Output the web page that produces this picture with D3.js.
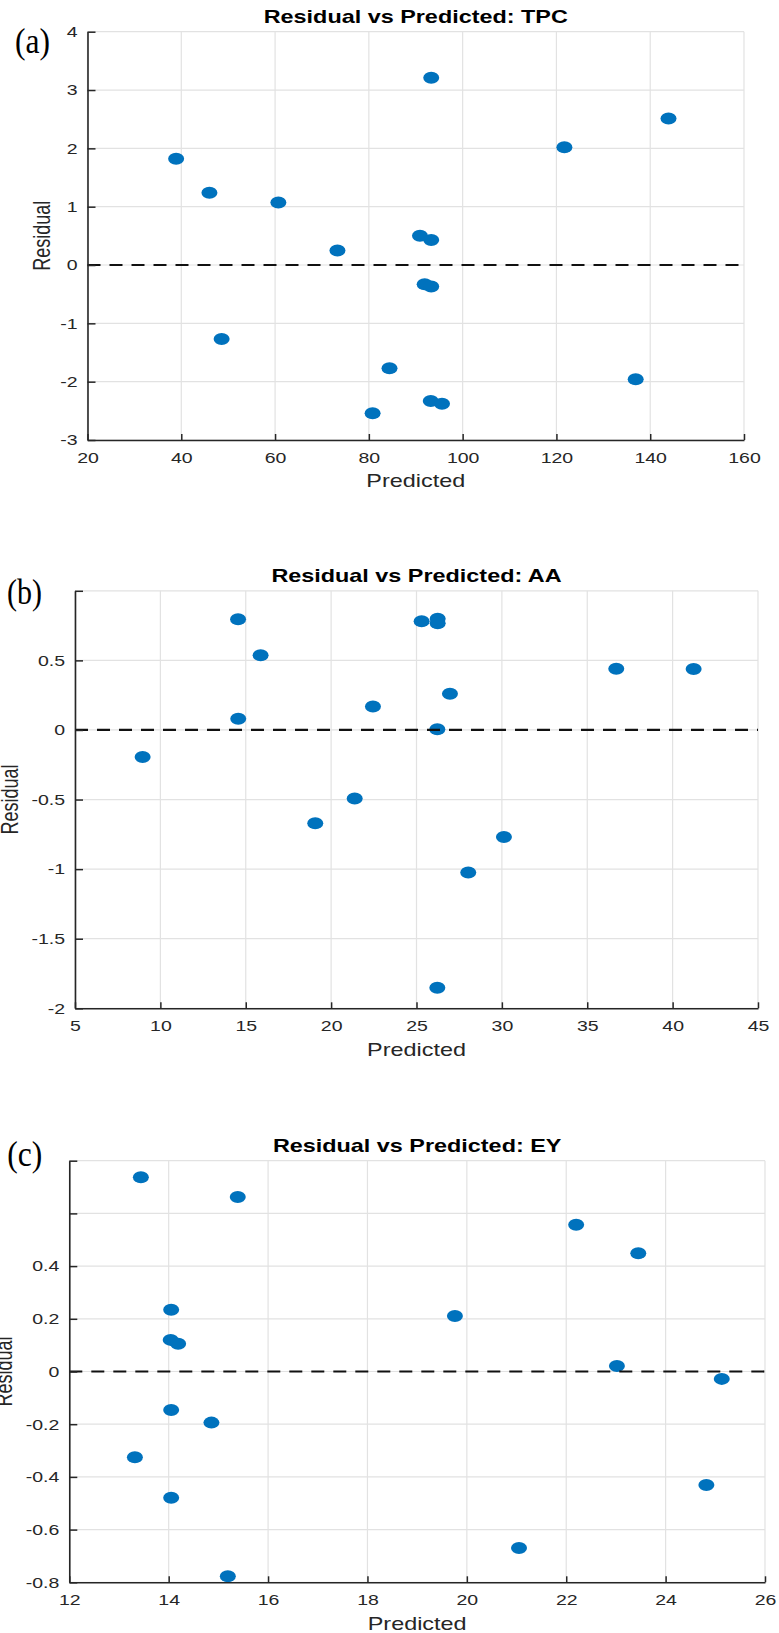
<!DOCTYPE html>
<html><head><meta charset="utf-8">
<script src="https://cdn.jsdelivr.net/npm/d3@7"></script>
<style>body{margin:0;background:#fff} svg{display:block}</style>
</head><body>
<svg id="chart" width="779" height="1633"></svg>
<script>
// ---------- data ----------
const tpcPredicted = [38.9, 46.0, 48.6, 60.7, 73.3, 80.8, 84.4, 90.9, 91.9, 93.3, 93.3, 93.3, 93.2, 95.6, 121.7, 136.9, 143.9];
const tpcResidual  = [1.82, 1.24, -1.27, 1.07, 0.25, -2.54, -1.77, 0.50, -0.33, 3.21, 0.43, -0.37, -2.33, -2.38, 2.02, -1.96, 2.51];
const tpcXTicks = [20, 40, 60, 80, 100, 120, 140, 160];
const tpcYTicks = [-3, -2, -1, 0, 1, 2, 3, 4];
const tpcYLabels = ["-3", "-2", "-1", "0", "1", "2", "3", "4"];

const aaPredicted = [8.96, 14.55, 14.56, 15.87, 19.07, 21.38, 22.45, 25.3, 26.24, 26.24, 26.22, 26.96, 26.22, 28.03, 30.12, 36.7, 41.23];
const aaResidual  = [-0.194, 0.795, 0.081, 0.537, -0.670, -0.493, 0.168, 0.781, 0.800, 0.766, 0.005, 0.261, -1.853, -1.025, -0.769, 0.440, 0.438];
const aaXTicks = [5, 10, 15, 20, 25, 30, 35, 40, 45];
const aaYTicks = [-2, -1.5, -1, -0.5, 0, 0.5, 1];
const aaYLabels = ["-2", "-1.5", "-1", "-0.5", "0", "0.5", ""];

const eyPredicted = [13.44, 15.39, 14.05, 14.04, 14.19, 14.05, 14.86, 13.32, 14.05, 15.19, 19.76, 22.2, 23.45, 23.02, 25.13, 24.82, 21.05];
const eyResidual  = [0.737, 0.662, 0.234, 0.120, 0.105, -0.146, -0.194, -0.325, -0.479, -0.777, 0.211, 0.557, 0.449, 0.021, -0.028, -0.431, -0.670];
const eyXTicks = [12, 14, 16, 18, 20, 22, 24, 26];
const eyYTicks = [-0.8, -0.6, -0.4, -0.2, 0, 0.2, 0.4, 0.6, 0.8];
const eyYLabels = ["-0.8", "-0.6", "-0.4", "-0.2", "0", "0.2", "0.4", "", ""];

const titles = ["Residual vs Predicted: TPC", "Residual vs Predicted: AA", "Residual vs Predicted: EY"];
const panelLetters = ["(a)", "(b)", "(c)"];
const xLabel = "Predicted";
const yLabel = "Residual";

// ---------- layout ----------
const SX = 1.3; // horizontal stretch of the original figure
const panels = [
  { xs: tpcPredicted, ys: tpcResidual, xDomain: [20, 160], yDomain: [-3, 4], xTicks: tpcXTicks, yTicks: tpcYTicks, yLabels: tpcYLabels,
    left: 87.5, right: 744, top: 31.7, bottom: 440, letterX: 15, letterY: 53, ylabX: 50, title: titles[0], letter: panelLetters[0] },
  { xs: aaPredicted, ys: aaResidual, xDomain: [5, 45], yDomain: [-2, 1], xTicks: aaXTicks, yTicks: aaYTicks, yLabels: aaYLabels,
    left: 75, right: 758, top: 590.8, bottom: 1008.3, letterX: 7, letterY: 604, ylabX: 17.8, title: titles[1], letter: panelLetters[1] },
  { xs: eyPredicted, ys: eyResidual, xDomain: [12, 26], yDomain: [-0.8, 0.8], xTicks: eyXTicks, yTicks: eyYTicks, yLabels: eyYLabels,
    left: 69.3, right: 765, top: 1160.7, bottom: 1582.3, letterX: 7.3, letterY: 1166, ylabX: 11.7, title: titles[2], letter: panelLetters[2] }
];

const svg = d3.select("#chart");
const SANS = "'Liberation Sans', Arial, Helvetica, sans-serif";
const SERIF = "'Liberation Serif', 'Times New Roman', serif";
const AXC = "#262626";

function drawPanel(p) {
  const x = d3.scaleLinear().domain(p.xDomain).range([p.left, p.right]);
  const y = d3.scaleLinear().domain(p.yDomain).range([p.bottom, p.top]);
  const g = svg.append("g");

  // grid
  g.append("g").selectAll("line").data(p.xTicks).join("line")
    .attr("x1", d => x(d)).attr("x2", d => x(d)).attr("y1", p.top).attr("y2", p.bottom)
    .attr("stroke", "#e2e2e2").attr("stroke-width", 1.2);
  g.append("g").selectAll("line").data(p.yTicks).join("line")
    .attr("y1", d => y(d)).attr("y2", d => y(d)).attr("x1", p.left).attr("x2", p.right)
    .attr("stroke", "#e2e2e2").attr("stroke-width", 1.2);

  // points
  g.append("g").selectAll("ellipse").data(d3.zip(p.xs, p.ys)).join("ellipse")
    .attr("cx", d => x(d[0])).attr("cy", d => y(d[1]))
    .attr("rx", 8).attr("ry", 6).attr("fill", "#0072BD");

  // zero line
  g.append("line").attr("x1", x(p.xDomain[0])).attr("x2", x(p.xDomain[1]))
    .attr("y1", y(0)).attr("y2", y(0))
    .attr("stroke", "#111").attr("stroke-width", 2.2).attr("stroke-dasharray", "13,9");

  // axes
  const ya = d3.axisLeft(y).tickValues(p.yTicks).tickSize(-8).tickSizeOuter(0).tickPadding(10)
    .tickFormat((d, i) => p.yLabels[i]);
  const yg = g.append("g").attr("transform", `translate(${p.left},0)`).call(ya)
    .attr("font-family", SANS).attr("font-size", 15).attr("color", AXC);
  yg.selectAll("text").attr("x", -10 / SX).attr("transform", `scale(${SX},1)`).attr("fill", AXC);

  const xa = d3.axisBottom(x).tickValues(p.xTicks).tickSize(-6).tickSizeOuter(0).tickPadding(12)
    .tickFormat(d3.format("d"));
  const xg = g.append("g").attr("transform", `translate(0,${p.bottom})`).call(xa)
    .attr("font-family", SANS).attr("font-size", 15).attr("color", AXC);
  xg.selectAll("text").attr("transform", `scale(${SX},1)`).attr("fill", AXC);

  [yg, xg].forEach(a => {
    a.select(".domain").attr("stroke-width", 1.6);
    a.selectAll(".tick line").attr("stroke-width", 1.5);
  });

  const cx = (p.left + p.right) / 2;
  const cy = (p.top + p.bottom) / 2;

  // title
  g.append("text").text(p.title)
    .attr("transform", `translate(${cx},${p.top - 8.5}) scale(${SX},1)`)
    .attr("text-anchor", "middle").attr("font-family", SANS).attr("font-weight", "bold")
    .attr("font-size", 18).attr("fill", "#000");

  // x label
  g.append("text").text(xLabel)
    .attr("transform", `translate(${cx},${p.bottom + 47.3}) scale(${SX},1)`)
    .attr("text-anchor", "middle").attr("font-family", SANS).attr("font-size", 18).attr("fill", AXC);

  // y label
  g.append("text").text(yLabel)
    .attr("transform", `translate(${p.ylabX},${cy}) scale(${SX},1) rotate(-90)`)
    .attr("text-anchor", "middle").attr("font-family", SANS).attr("font-size", 18).attr("fill", AXC);

  // panel letter
  g.append("text").text(p.letter)
    .attr("x", p.letterX).attr("y", p.letterY)
    .attr("font-family", SERIF).attr("font-size", 36)
    .attr("textLength", 35).attr("lengthAdjust", "spacingAndGlyphs").attr("fill", "#000");
}

panels.forEach(drawPanel);
</script>
</body></html>
